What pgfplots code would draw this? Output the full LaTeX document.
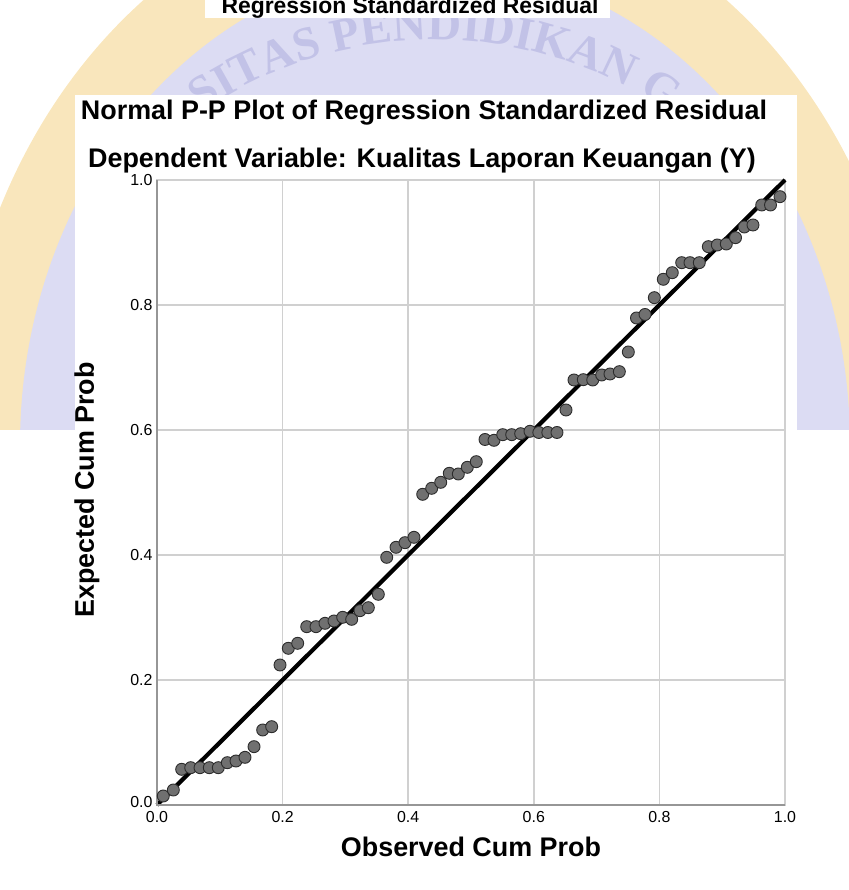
\documentclass[border=0pt]{standalone}
\usepackage{fontspec}
\setmainfont{Liberation Sans}
\newfontfamily\wmfont{Liberation Serif}
\usepackage{pgfplots}
\usepackage{pgfplotstable}
\usetikzlibrary{decorations.text}
\pgfplotsset{compat=1.18}
\definecolor{markfill}{RGB}{112,112,112}
\definecolor{markdraw}{RGB}{45,45,45}
\definecolor{gridc}{RGB}{208,208,208}
\definecolor{axc}{RGB}{150,150,150}
\definecolor{lav}{RGB}{220,220,243}
\definecolor{lavd}{RGB}{194,194,231}
\definecolor{orng}{RGB}{249,230,188}
\pgfplotstableread{
x y
0.0100 0.0144
0.0260 0.0240
0.0393 0.0571
0.0537 0.0597
0.0685 0.0597
0.0833 0.0597
0.0976 0.0597
0.1120 0.0677
0.1258 0.0704
0.1401 0.0763
0.1545 0.0933
0.1683 0.1200
0.1826 0.1253
0.1959 0.2240
0.2091 0.2507
0.2240 0.2587
0.2384 0.2853
0.2532 0.2853
0.2675 0.2907
0.2818 0.2944
0.2957 0.3003
0.3100 0.2971
0.3232 0.3109
0.3365 0.3157
0.3524 0.3371
0.3658 0.3963
0.3806 0.4123
0.3949 0.4197
0.4092 0.4283
0.4231 0.4971
0.4374 0.5067
0.4518 0.5163
0.4654 0.5307
0.4798 0.5296
0.4941 0.5403
0.5084 0.5493
0.5223 0.5848
0.5366 0.5835
0.5505 0.5925
0.5648 0.5925
0.5791 0.5941
0.5939 0.5979
0.6080 0.5960
0.6223 0.5960
0.6369 0.5960
0.6513 0.6320
0.6640 0.6800
0.6788 0.6805
0.6938 0.6800
0.7081 0.6880
0.7213 0.6896
0.7362 0.6933
0.7505 0.7248
0.7635 0.7792
0.7771 0.7848
0.7919 0.8117
0.8062 0.8411
0.8205 0.8517
0.8355 0.8677
0.8487 0.8677
0.8635 0.8677
0.8779 0.8933
0.8922 0.8960
0.9065 0.8976
0.9212 0.9077
0.9352 0.9248
0.9490 0.9280
0.9629 0.9600
0.9769 0.9600
0.9920 0.9733
}\pp
\begin{document}
\begin{tikzpicture}[x=1bp,y=1bp]
\useasboundingbox (0,0) rectangle (849,890);
% watermark background (approximate)
\begin{scope}
\clip (0,460) rectangle (849,890);
\fill[orng] (435,445) ellipse [x radius=480, y radius=560];
\fill[lav] (435,445) ellipse [x radius=415, y radius=480];
\path[decorate, decoration={text along path, text align=center,
  text={|\wmfont\fontsize{47}{47}\selectfont\bfseries\color{lavd}|SITAS PENDIDIKAN G}}]
  (435,435) ++(160:415) arc[start angle=160, end angle=20, radius=415];
\end{scope}
\fill[white] (75,0) rectangle (797,795);
\fill[white] (205,872) rectangle (610,890);
\node[font=\fontsize{23}{23}\selectfont\bfseries, anchor=base] at (410,876) {Regression Standardized Residual};
\node[font=\fontsize{27}{27}\selectfont\bfseries, anchor=base] at (424,770) {Normal P-P Plot of Regression Standardized Residual};
\node[font=\fontsize{27}{27}\selectfont\bfseries, anchor=base] at (422,722) {Dependent Variable: Kualitas Laporan Keuangan (Y)};
\node[font=\fontsize{27}{27}\selectfont\bfseries, rotate=90] at (87,400) {Expected Cum Prob};
\node[font=\fontsize{27}{27}\selectfont\bfseries, anchor=base] at (471,33) {Observed Cum Prob};
\begin{axis}[
  at={(157bp,85bp)}, anchor=south west,
  width=628bp, height=625bp, scale only axis,
  xmin=0, xmax=1, ymin=0, ymax=1,
  xtick={0,0.2,0.4,0.6,0.8,1},
  ytick={0,0.2,0.4,0.6,0.8,1},
  xticklabels={0.0,0.2,0.4,0.6,0.8,1.0},
  yticklabels={\raisebox{7bp}{0.0},0.2,0.4,0.6,0.8,1.0},
  major tick length=0pt,
  grid=major,
  major grid style={gridc, line width=1.6bp},
  axis line style={gridc, line width=1.4bp},
  tick label style={font=\fontsize{16}{16}\selectfont},
  xticklabel style={anchor=north, yshift=-3bp},
  yticklabel style={anchor=east, xshift=-1bp},
  clip=false,
]
\addplot[only marks, mark=*, mark size=6bp,
  mark options={fill=markfill, draw=markdraw, line width=0.9bp}] table[x=x,y=y] {\pp};
\addplot[black, line width=4.2bp, line cap=butt] coordinates {(0,0) (1,1)};
\draw[axc, line width=1.4bp] (rel axis cs:0,1) -- (rel axis cs:0,0) -- (rel axis cs:1,0);
\end{axis}
\end{tikzpicture}
\end{document}
